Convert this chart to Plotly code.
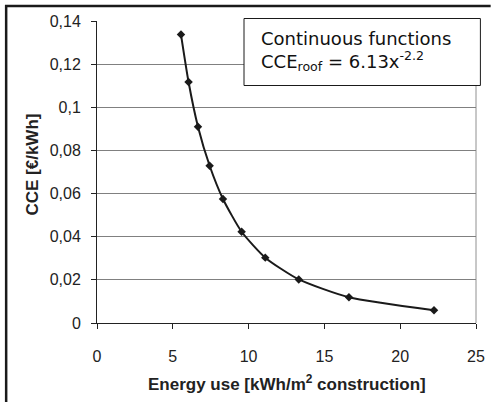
import plotly.graph_objects as go

# Data
energy_use = [5.54, 6.04, 6.66, 7.43, 8.31, 9.54, 11.10, 13.31, 16.62, 22.23]
cce_values = [0.1337, 0.1117, 0.0910, 0.0729, 0.0575, 0.0423, 0.0303, 0.0202, 0.0119, 0.0059]

y_tick_vals = [0, 0.02, 0.04, 0.06, 0.08, 0.10, 0.12, 0.14]
y_tick_text = ["0", "0,02", "0,04", "0,06", "0,08", "0,1", "0,12", "0,14"]
x_tick_vals = [0, 5, 10, 15, 20, 25]
x_tick_text = ["0", "5", "10", "15", "20", "25"]

W, H = 495, 402
L, R, T, B = 97, 10, 21, 79
PW, PH = W - L - R, H - T - B


def px(x):
    return (x - L) / PW


def py(y):
    return (H - B - y) / PH


fig = go.Figure()
fig.add_trace(go.Scatter(
    x=energy_use, y=cce_values, mode="lines+markers",
    line=dict(color="#1a1a1a", width=2, shape="spline", smoothing=0.6),
    marker=dict(symbol="diamond", size=6.5, color="#1a1a1a"),
    showlegend=False, hoverinfo="skip",
))

axis_font = dict(family="Liberation Sans, Arial, sans-serif", size=16, color="#222")
title_font = dict(family="Liberation Sans, Arial, sans-serif", size=17, color="#222")
box_font = dict(family="DejaVu Sans, Verdana, sans-serif", size=18, color="#111")

fig.update_layout(
    width=W, height=H,
    margin=dict(l=L, r=R, t=T, b=B, pad=0),
    paper_bgcolor="white", plot_bgcolor="white",
    xaxis=dict(range=[0, 25], tickvals=x_tick_vals, ticktext=x_tick_text,
               showgrid=False, zeroline=False, showline=True, linecolor="#222", linewidth=1,
               ticks="outside", ticklen=5, tickcolor="#222", tickfont=axis_font,
               ticklabelstandoff=14, fixedrange=True),
    yaxis=dict(range=[0, 0.14], tickvals=y_tick_vals, ticktext=y_tick_text,
               showgrid=True, gridcolor="#808080", gridwidth=1, zeroline=False,
               showline=True, linecolor="#222", linewidth=1,
               ticks="outside", ticklen=5, tickcolor="#222", tickfont=axis_font,
               ticklabelstandoff=7, fixedrange=True),
    shapes=[
        # right border of plot area
        dict(type="line", xref="paper", yref="paper", x0=1, x1=1, y0=0, y1=1,
             line=dict(color="#909090", width=1), layer="below"),
        # outer frame (left and top)
        dict(type="path", xref="paper", yref="paper",
             path=f"M {px(4)},{py(H + 5)} L {px(4)},{py(6)} L {px(W + 5)},{py(6)}",
             line=dict(color="#1a1a1a", width=2.5)),
        # text box
        dict(type="rect", xref="paper", yref="paper",
             x0=px(247.5), x1=px(489.5), y0=py(85.5), y1=py(18.5),
             line=dict(color="#1a1a1a", width=1), fillcolor="white"),
    ],
    annotations=[
        dict(text="<b>Energy use [kWh/m<sup>2</sup> construction]</b>", xref="paper", yref="paper",
             x=px(291), y=py(383), showarrow=False, xanchor="center", yanchor="middle",
             font=title_font),
        dict(text="<b>CCE [€/kWh]</b>", xref="paper", yref="paper", textangle=-90,
             x=px(30), y=py(165), showarrow=False, xanchor="center", yanchor="middle",
             font=title_font),
        dict(text="Continuous functions", xref="paper", yref="paper",
             x=px(263), y=py(39), showarrow=False, xanchor="left", yanchor="middle",
             font=box_font),
        dict(text="CCE<sub>roof</sub> = 6.13x<sup>-2.2</sup>", xref="paper", yref="paper",
             x=px(263), y=py(61), showarrow=False, xanchor="left", yanchor="middle",
             font=box_font),
    ],
)

fig.write_html("out.html", config={"displayModeBar": False},
               post_script="document.body.style.margin='0';")
